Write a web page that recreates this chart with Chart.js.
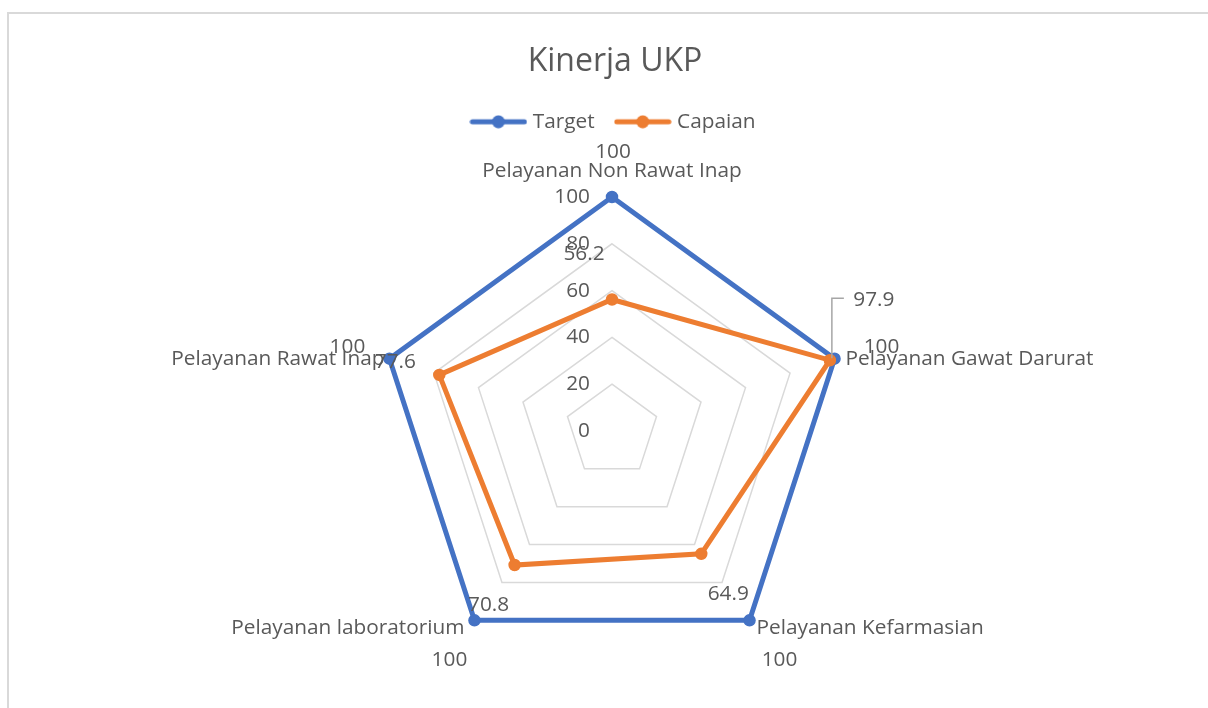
<!DOCTYPE html>
<html lang="en">
<head>
    <meta charset="UTF-8">
    <script src="https://cdn.jsdelivr.net/npm/chart.js@4.4.1/dist/chart.umd.min.js"></script>
    <title>Kinerja UKP</title>
    <style>
        html, body { margin: 0; padding: 0; background: #fff; }
        #wrap { position: relative; width: 1208px; height: 708px; }
    </style>
</head>
<body>
<div id="wrap"><canvas id="container"></canvas></div>

<script>
    // data
    const categories = ['Pelayanan Non Rawat Inap', 'Pelayanan Gawat Darurat', 'Pelayanan Kefarmasian', 'Pelayanan laboratorium', 'Pelayanan Rawat Inap'];
    const target = [100, 100, 100, 100, 100];
    const capaian = [56.2, 97.9, 64.9, 70.8, 77.6];
    const tickValues = [0, 20, 40, 60, 80, 100];

    const ink = '#595959';
    const fontFamily = '"Open Sans", Lato, sans-serif';
    const labelSize = 20.8;
    const blue = '#4472C4';
    const orange = '#ED7D31';

    // where Excel put the text, relative to the marks
    const catPlace = [
        {dx: 0, dy: -26, align: 'center'},
        {dx: 11, dy: 0, align: 'left'},
        {dx: 7, dy: 8, align: 'left'},
        {dx: -10, dy: 8, align: 'right'},
        {dx: -5, dy: 0, align: 'right'}
    ];
    const targetPlace = [[1, -45], [47, -12], [30, 40], [-25, 40], [-42, -12]];
    const capaianPlace = [[-28, -45], [44, -60], [27, 40], [-26, 40], [-44, -13]];
    const capaianLeader = [false, true, false, false, false];

    // legend marker: short line with a dot, like Excel
    function legendMarker(color) {
        const c = document.createElement('canvas');
        c.width = 58;
        c.height = 14;
        const g = c.getContext('2d');
        g.strokeStyle = color;
        g.lineWidth = 5;
        g.lineCap = 'round';
        g.beginPath();
        g.moveTo(3, 7);
        g.lineTo(55, 7);
        g.stroke();
        g.fillStyle = color;
        g.beginPath();
        g.arc(29, 7, 6.5, 0, Math.PI * 2);
        g.fill();
        return c;
    }
    const markers = [legendMarker(blue), legendMarker(orange)];

    const excelLabels = {
        id: 'excelLabels',
        beforeDraw(chart) {
            const ctx = chart.ctx;
            ctx.save();
            ctx.fillStyle = '#d9d9d9';
            ctx.fillRect(7, 12, chart.width - 7, 2);
            ctx.fillRect(7, 12, 2, chart.height - 12);
            ctx.restore();
        },
        beforeDatasetsDraw(chart) {
            const r = chart.scales.r;
            const ctx = chart.ctx;
            ctx.save();
            ctx.font = labelSize + 'px ' + fontFamily;
            ctx.fillStyle = ink;
            ctx.textBaseline = 'middle';
            ctx.textAlign = 'right';
            r.ticks.forEach(t => {
                ctx.fillText(t.label, r.xCenter - 22, r.yCenter - r.getDistanceFromCenterForValue(t.value));
            });
            categories.forEach((name, i) => {
                const p = r.getPointPositionForValue(i, r.max);
                const pl = catPlace[i];
                ctx.textAlign = pl.align;
                ctx.fillText(name, p.x + pl.dx, p.y + pl.dy);
            });
            ctx.restore();
        },
        afterDatasetsDraw(chart) {
            const ctx = chart.ctx;
            ctx.save();
            ctx.font = labelSize + 'px ' + fontFamily;
            ctx.fillStyle = ink;
            ctx.textBaseline = 'middle';
            ctx.textAlign = 'center';
            chart.data.datasets.forEach((ds, di) => {
                const meta = chart.getDatasetMeta(di);
                const place = di === 0 ? targetPlace : capaianPlace;
                meta.data.forEach((pt, i) => {
                    const [dx, dy] = place[i];
                    if (di === 1 && capaianLeader[i]) {
                        ctx.strokeStyle = '#a6a6a6';
                        ctx.lineWidth = 1.5;
                        ctx.beginPath();
                        ctx.moveTo(pt.x + 2, pt.y - 2);
                        ctx.lineTo(pt.x + 2, pt.y + dy - 2);
                        ctx.lineTo(pt.x + 14, pt.y + dy - 2);
                        ctx.stroke();
                    }
                    ctx.fillText(String(ds.data[i]), pt.x + dx, pt.y + dy);
                });
            });
            ctx.restore();
        }
    };

    const ctx = document.getElementById('container').getContext('2d');

    const chartData = {
        labels: categories,
        datasets: [{
            label: 'Target',
            data: target,
            borderColor: blue,
            backgroundColor: blue,
            pointBackgroundColor: blue,
            borderWidth: 5,
            pointRadius: 5.5,
            pointBorderWidth: 1.5,
            fill: false,
            order: 2
        }, {
            label: 'Capaian',
            data: capaian,
            borderColor: orange,
            backgroundColor: orange,
            pointBackgroundColor: orange,
            borderWidth: 5,
            pointRadius: 5.5,
            pointBorderWidth: 1.5,
            fill: false,
            order: 1
        }]
    };

    const myRadar = new Chart(ctx, {
        type: 'radar',
        data: chartData,
        plugins: [excelLabels],
        options: {
            responsive: true,
            maintainAspectRatio: false,
            animation: false,
            layout: {padding: {left: 22}},
            plugins: {
                title: {
                    display: true,
                    text: 'Kinerja UKP',
                    color: ink,
                    font: {family: fontFamily, size: 32, weight: 'normal'},
                    padding: {top: 43, bottom: 6}
                },
                legend: {
                    display: true,
                    position: 'top',
                    labels: {
                        color: ink,
                        font: {family: fontFamily, size: labelSize},
                        usePointStyle: true,
                        pointStyleWidth: 48,
                        padding: 24,
                        generateLabels: chart => chart.data.datasets.map((ds, i) => ({
                            text: ds.label,
                            pointStyle: markers[i],
                            fillStyle: ds.borderColor,
                            strokeStyle: ds.borderColor,
                            fontColor: ink,
                            lineWidth: 0,
                            hidden: false,
                            datasetIndex: i
                        }))
                    }
                },
                tooltip: {enabled: false}
            },
            scales: {
                r: {
                    min: 0,
                    max: 100,
                    afterBuildTicks: s => {
                        s.ticks = tickValues.map(v => ({value: v}));
                    },
                    afterFit: s => {
                        // plot placement as in the Excel chart
                        s.xCenter = 612;
                        s.yCenter = 431;
                        s.drawingArea = 234;
                    },
                    ticks: {display: false},
                    pointLabels: {display: false},
                    angleLines: {display: false},
                    grid: {color: '#d9d9d9', lineWidth: 1.5}
                }
            }
        }
    });
</script>
</body>
</html>
